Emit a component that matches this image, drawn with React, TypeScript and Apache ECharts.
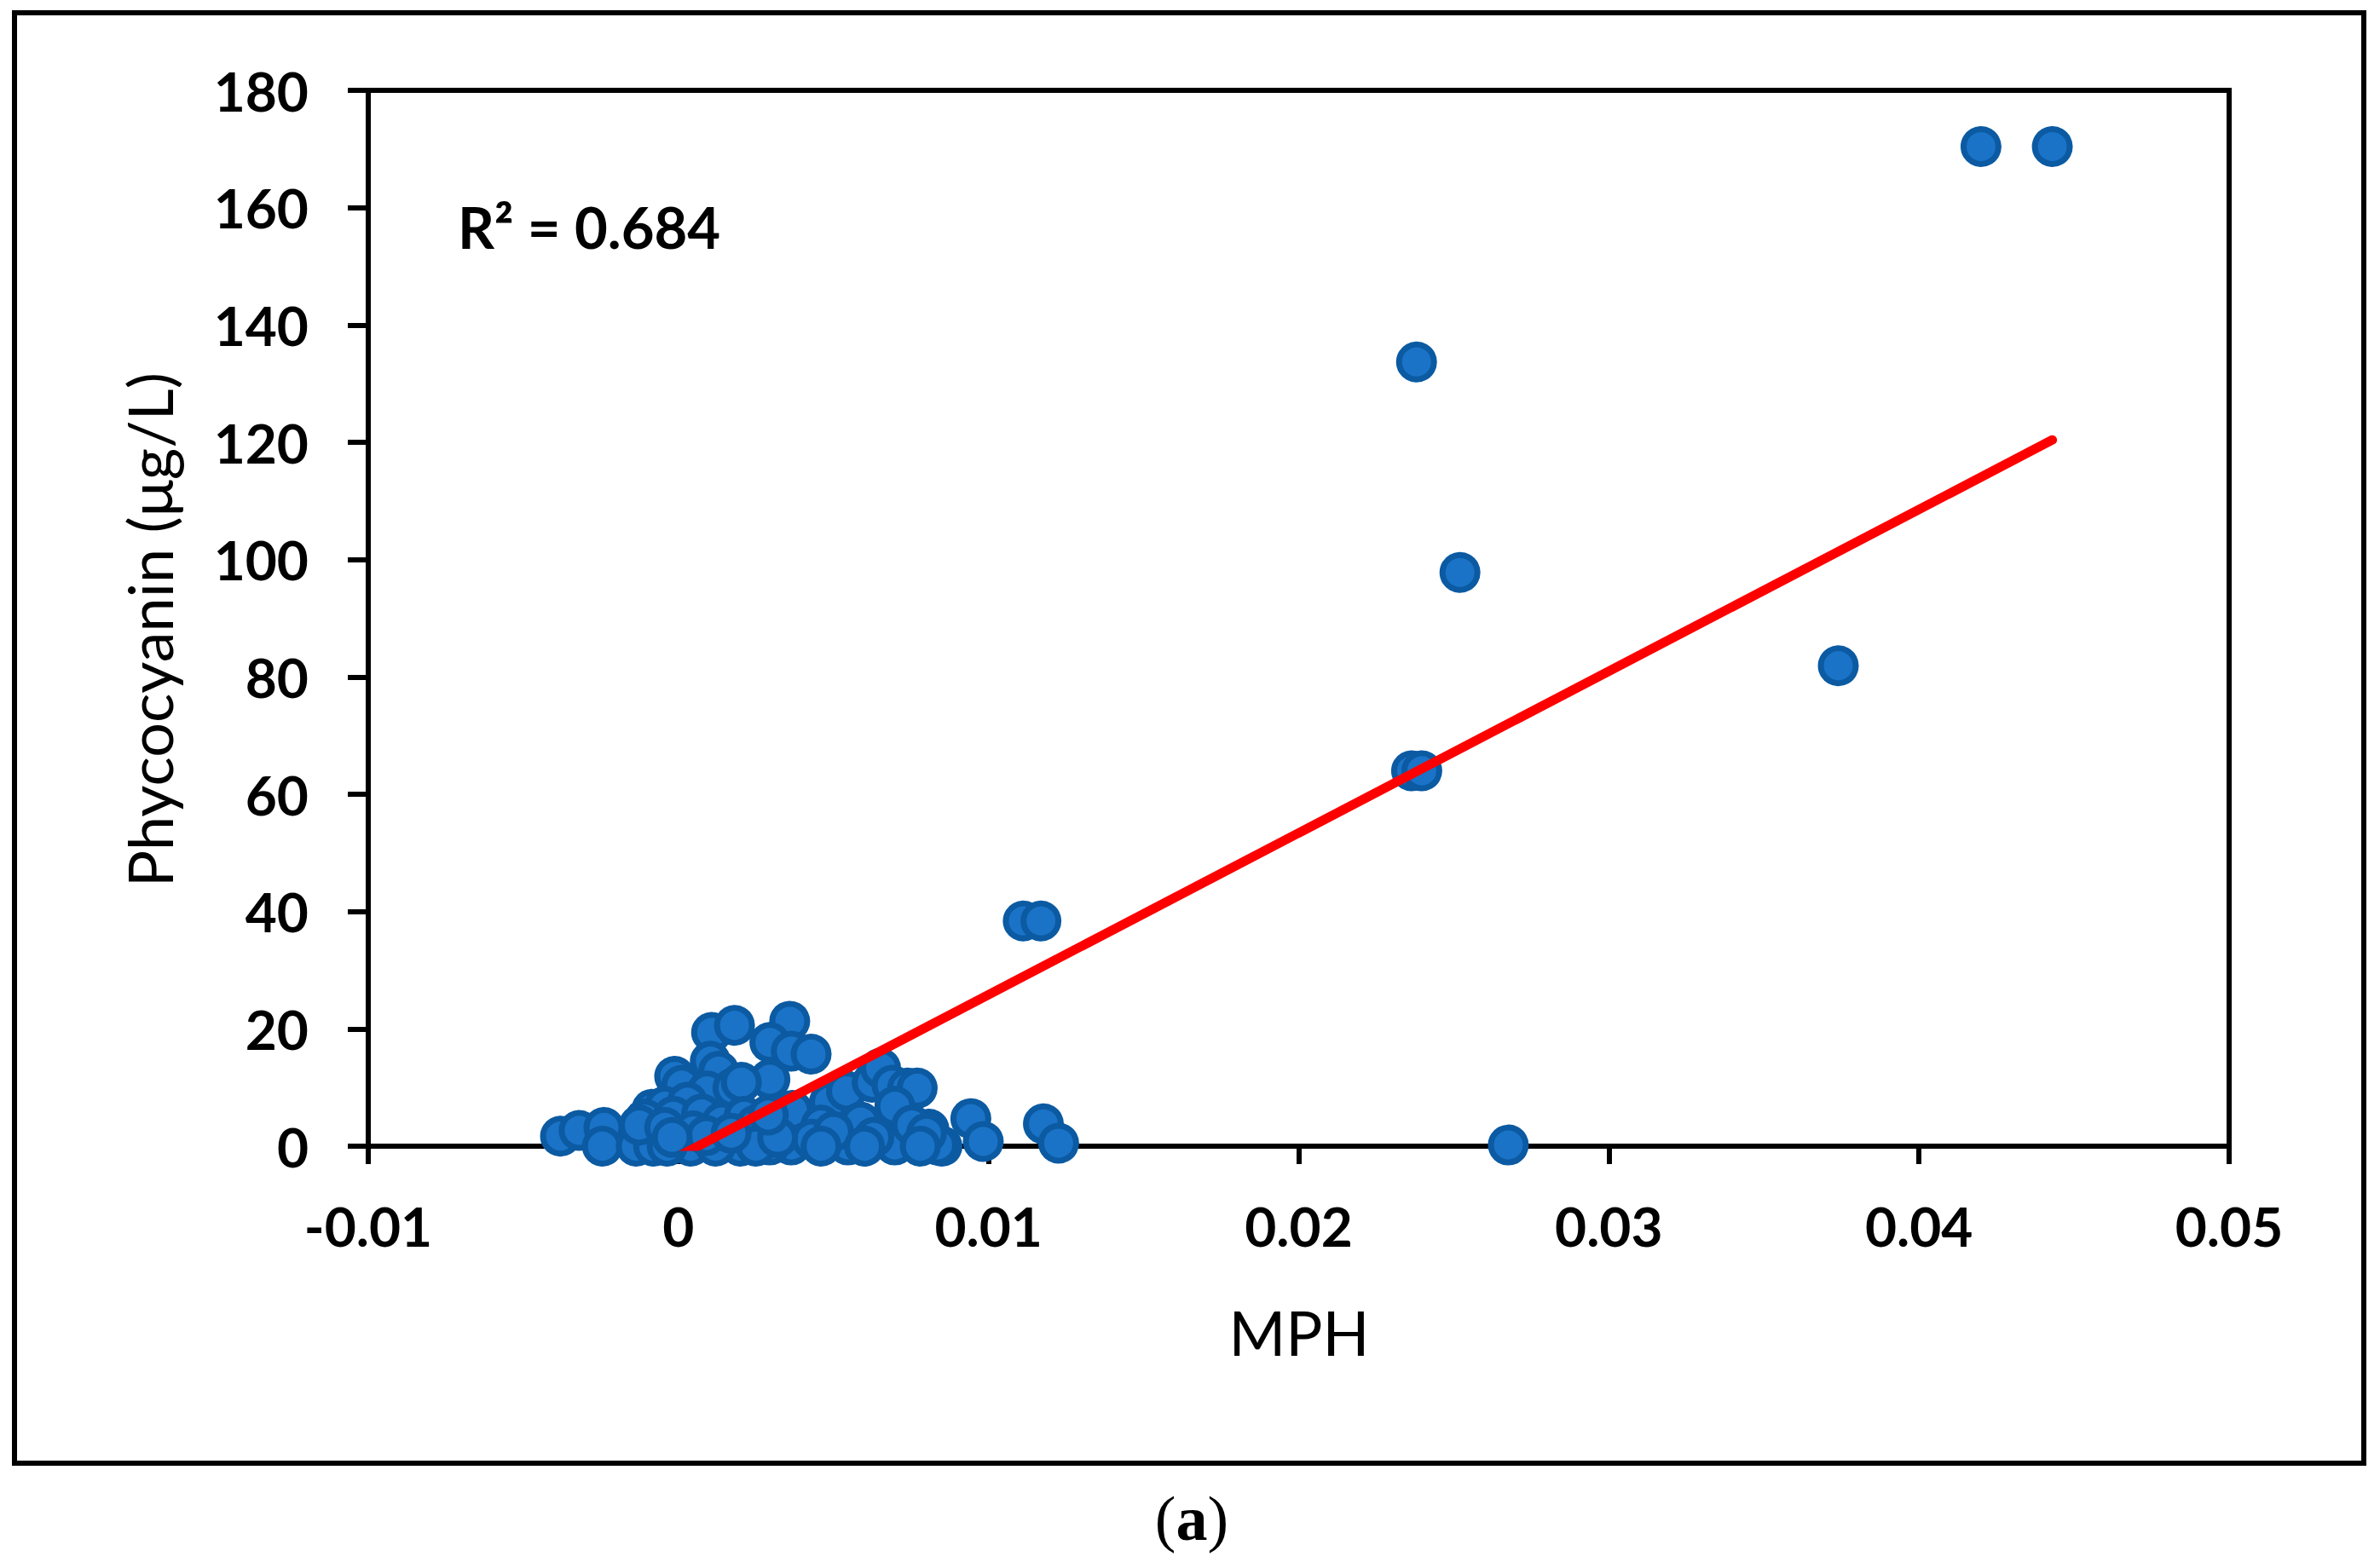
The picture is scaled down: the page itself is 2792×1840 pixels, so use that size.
import React, { useEffect, useRef } from "react";
import * as echarts from "echarts";

// ---- data ----
const mphValues: number[] = [
  // outliers
  0.0420, 0.0443, 0.0238, 0.0252, 0.0374, 0.02364, 0.02397, 0.01112, 0.01169, 0.02676,
  0.01177, 0.01226, 0.00943, 0.00983, 0.0085,
  // cluster
  -0.0038, -0.0032, -0.0024, -0.00245, -0.00136, -0.0008, 0.0004, -0.00036, 0.002,
  0.00107, 0.00181, 0.00359, 0.00295, 0.00364, 0.00428, 0.00103, 0.0013, -0.00012,
  0.00011, 0.00093, 0.00295, 0.00176, 0.00203, -0.00085, -0.00044, 0.00029, -0.00108,
  -0.00126, -0.00016, 0.00075, 0.0014, 0.00212, -0.00044, 0.00047, 0.00368, 0.00487,
  0.00542, 0.00625, 0.00652, 0.00689, 0.00739, 0.0077, 0.00698, 0.00547, 0.00698,
  0.00364, 0.00295, 0.00808, 0.00836, 0.0046, 0.00588, 0.00753, 0.00249, 0.0043, 0.008,
  0.0012, 0.0025, 0.0032, 0.0009, -0.0002, 0.0017, 0.0029, 0.0050, 0.0063, 0.0060,
  0.0046, 0.0078,
];
const phycocyaninValues: number[] = [
  170.4, 170.4, 133.7, 97.8, 81.9, 64.0, 64.0, 38.4, 38.4, 0.2,
  3.8, 0.5, 4.7, 0.8, 0,
  1.7, 2.7, 3.2, 0, 0, 0, 0, 0, 0,
  19.4, 20.6, 21.3, 17.7, 16.2, 15.7, 14.5, 12.8, 11.9,
  10.4, 9.4, 11.4, 9.9, 10.9, 6.3, 6.8, 7.5, 4.6,
  3.6, 5.1, 5.5, 4.1, 5.1, 3.2, 2.6, 6.1, 7.5,
  9.4, 10.9, 13.3, 10.4, 9.9, 9.9, 6.8, 0.2, 0.2,
  0.2, 0.2, 2.9, 0.2, 3.6, 4.1, 3.6, 3.6, 1.2, 2.2,
  0, 0, 1.5, 1.8, 1.5, 2.2, 5.3, 2.5, 1.5, 0,
  0, 0,
];
// linear trend line end points (lower end continues below the axis and is clipped)
const trendX: number[] = [-0.0039, 0.0443];
const trendY: number[] = [-12.5, 120.4];

const xTickLabels: string[] = ["-0.01", "0", "0.01", "0.02", "0.03", "0.04", "0.05"];
const yTickLabels: string[] = ["0", "20", "40", "60", "80", "100", "120", "140", "160", "180"];
const xMin = -0.01, xMax = 0.05, xStep = 0.01;
const yMin = 0, yMax = 180, yStep = 20;

const xTitle = "MPH";
const yTitle = "Phycocyanin (μg/L)";
const r2Text = "R² = 0.684";

export default function App() {
  const ref = useRef<HTMLDivElement>(null);
  useEffect(() => {
    if (!ref.current) return;
    const chart = echarts.init(ref.current, undefined, { renderer: "svg" });
    const pts = mphValues.map((x, i) => [x, phycocyaninValues[i]]);
    const tickFont = { color: "#000", fontFamily: "Lato", fontWeight: "bold" as const, fontSize: 64 };
    chart.setOption({
      animation: false,
      backgroundColor: "#fff",
      grid: {
        left: 432, right: 177, top: 106, bottom: 495,
        show: true, borderColor: "#000", borderWidth: 6, backgroundColor: "transparent",
      },
      xAxis: {
        type: "value", min: xMin, max: xMax, interval: xStep,
        axisLine: { show: true, onZero: false, lineStyle: { color: "#000", width: 6 } },
        axisTick: { show: true, length: 21, lineStyle: { color: "#000", width: 6 } },
        splitLine: { show: false },
        axisLabel: {
          ...tickFont, margin: 61,
          formatter: (v: number) => xTickLabels[Math.round((v - xMin) / xStep)] ?? "",
        },
      },
      yAxis: {
        type: "value", min: yMin, max: yMax, interval: yStep,
        axisLine: { show: true, onZero: false, lineStyle: { color: "#000", width: 6 } },
        axisTick: { show: true, length: 24, lineStyle: { color: "#000", width: 6 } },
        splitLine: { show: false },
        axisLabel: {
          ...tickFont, margin: 70,
          formatter: (v: number) => yTickLabels[Math.round((v - yMin) / yStep)] ?? "",
        },
      },
      series: [
        {
          type: "scatter",
          data: pts,
          symbol: "circle",
          symbolSize: 41,
          itemStyle: { color: "#1A73C6", borderColor: "#0B5AA2", borderWidth: 7, opacity: 1 },
          z: 2,
        },
        {
          type: "line",
          data: trendX.map((x, i) => [x, trendY[i]]),
          symbol: "none",
          clip: true,
          lineStyle: { color: "#FF0000", width: 11, cap: "round" },
          z: 3,
        },
      ],
      graphic: [
        {
          type: "rect",
          shape: { x: 17, y: 15, width: 2756, height: 1702 },
          style: { fill: "none", stroke: "#000", lineWidth: 6 },
          silent: true,
        },
        {
          type: "text",
          x: 175, y: 739, rotation: Math.PI / 2,
          style: {
            text: yTitle, align: "center", verticalAlign: "middle",
            fill: "#000", fontFamily: "Lato", fontSize: 72, fontWeight: "normal",
          },
        },
        {
          type: "text",
          x: 1524, y: 1563,
          style: {
            text: xTitle, align: "center", verticalAlign: "middle",
            fill: "#000", fontFamily: "Lato", fontSize: 72, fontWeight: "normal",
          },
        },
        {
          type: "text",
          x: 537, y: 266,
          style: {
            text: r2Text, align: "left", verticalAlign: "middle",
            fill: "#000", fontFamily: "Lato", fontSize: 67, fontWeight: "bold",
          },
        },
        {
          type: "text",
          x: 1398, y: 1782,
          style: {
            text: "{p|(}{b|a}{p|)}", align: "center", verticalAlign: "middle",
            rich: {
              p: { fill: "#000", fontFamily: "Liberation Serif", fontSize: 74, fontWeight: "normal" },
              b: { fill: "#000", fontFamily: "Liberation Serif", fontSize: 74, fontWeight: "bold" },
            },
          },
        },
      ],
    });
    return () => chart.dispose();
  }, []);
  return (
    <div
      ref={ref}
      style={{ position: "absolute", left: 0, top: 0, width: 2792, height: 1840, background: "#fff" }}
    />
  );
}
